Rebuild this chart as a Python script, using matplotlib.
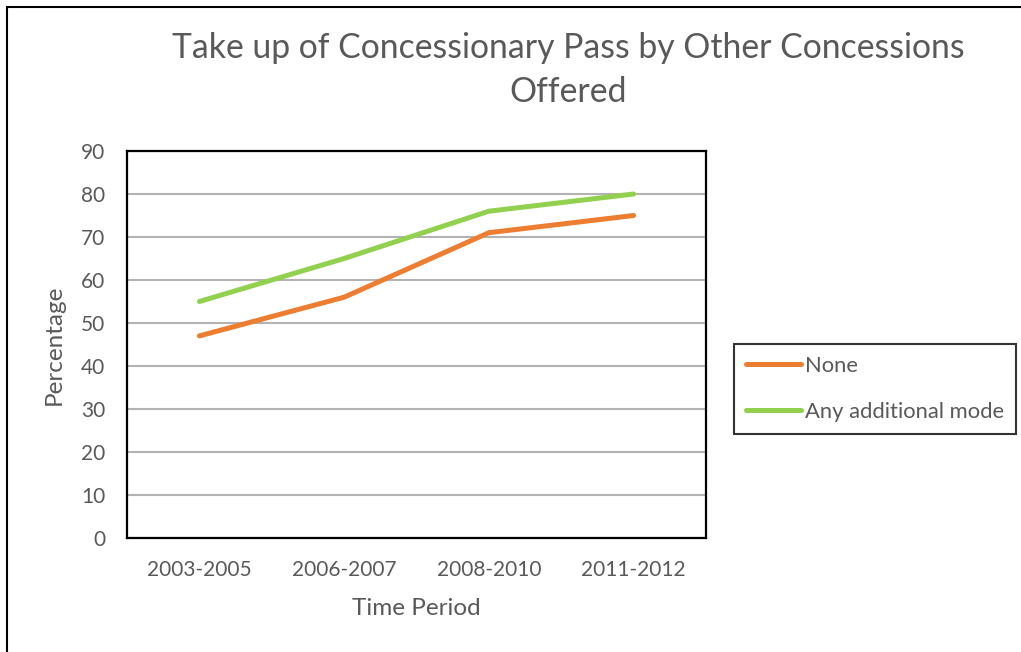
import matplotlib
matplotlib.use("Agg")
import matplotlib.pyplot as plt
from matplotlib.lines import Line2D
from matplotlib.patches import Rectangle

periods = ["2003-2005", "2006-2007", "2008-2010", "2011-2012"]
none_vals = [47, 56, 71, 75]
additional_vals = [55, 65, 76, 80]
series_names = ["None", "Any additional mode"]
y_ticks = [0, 10, 20, 30, 40, 50, 60, 70, 80, 90]

W, H = 1021, 652
TXT = "#595959"
FONT = "Lato"
plt.rcParams["font.family"] = [FONT, "DejaVu Sans"]

fig = plt.figure(figsize=(W / 100, H / 100), dpi=100)

def fx(px):
    return px / W

def fy(py):
    return 1 - py / H

# outer chart frame
fig.add_artist(Rectangle((fx(7), fy(660)), fx(1030) - fx(7), fy(7) - fy(660),
                         transform=fig.transFigure, fill=False,
                         edgecolor="black", linewidth=1.5))

left, top, right, bottom = 127, 151, 706, 538
ax = fig.add_axes([fx(left), fy(bottom), fx(right) - fx(left), fy(top) - fy(bottom)])

x = list(range(len(periods)))
ax.plot(x, none_vals, color="#ED7D31", linewidth=3.6, solid_capstyle="round",
        solid_joinstyle="round", label=series_names[0], zorder=3)
ax.plot(x, additional_vals, color="#92D050", linewidth=3.6, solid_capstyle="round",
        solid_joinstyle="round", label=series_names[1], zorder=3)

ax.set_xlim(-0.5, len(periods) - 0.5)
ax.set_ylim(0, 90)
ax.set_yticks(y_ticks)
ax.set_xticks(x)
ax.set_xticklabels(periods)
ax.yaxis.grid(True, color="#B3B3B3", linewidth=1.5)
ax.set_axisbelow(True)
ax.tick_params(axis="both", length=0, labelsize=15, labelcolor=TXT)
ax.tick_params(axis="y", pad=15.5)
ax.tick_params(axis="x", pad=16)
for sp in ax.spines.values():
    sp.set_color("black")
    sp.set_linewidth(1.6)

ax.set_xlabel("Time Period", fontsize=17.5, color=TXT, labelpad=13)
ax.set_ylabel("Percentage", fontsize=17.5, color=TXT, labelpad=12)

fig.text(fx(568), fy(48), "Take up of Concessionary Pass by Other Concessions",
         ha="center", va="center", fontsize=24.3, color=TXT)
fig.text(fx(568), fy(92), "Offered", ha="center", va="center", fontsize=24.3, color=TXT)

handles = [Line2D([], [], color="#ED7D31", linewidth=3.6, solid_capstyle="round"),
           Line2D([], [], color="#92D050", linewidth=3.6, solid_capstyle="round")]
leg = fig.legend(handles, series_names, loc="upper left",
                 bbox_to_anchor=(fx(734), fy(344)), bbox_transform=fig.transFigure,
                 frameon=True, fancybox=False, edgecolor="black", fontsize=15.8,
                 labelcolor=TXT, handlelength=2.5, handletextpad=0.18,
                 labelspacing=1.16, borderpad=0.55, borderaxespad=0)
leg.get_frame().set_linewidth(1.5)

fig.savefig("out.png", dpi=100, facecolor="white")
